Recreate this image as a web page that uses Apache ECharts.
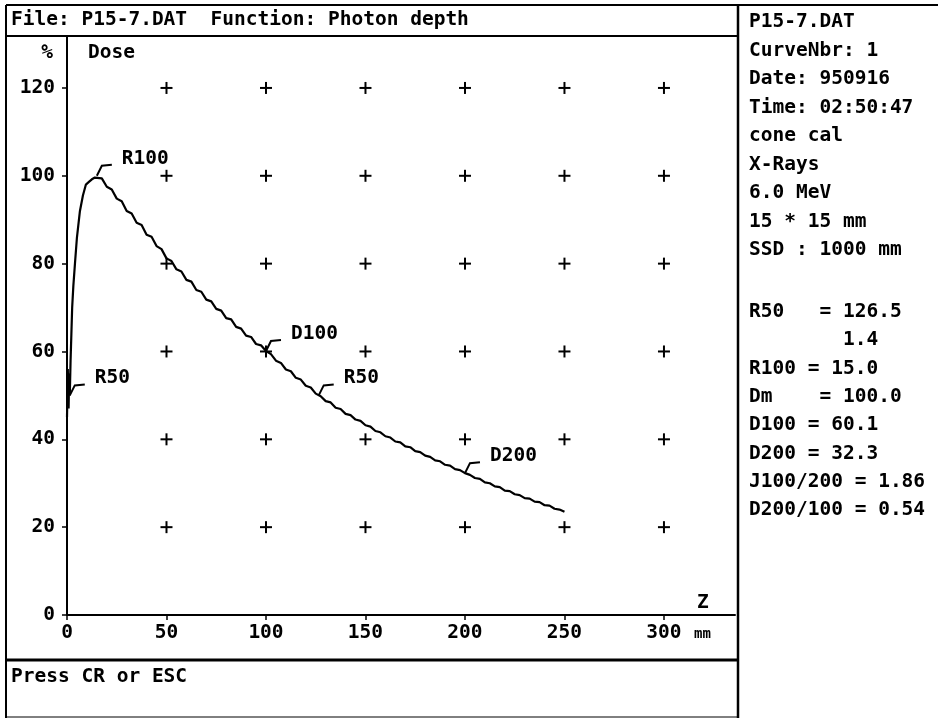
<!DOCTYPE html>
<html><head><meta charset="utf-8">
<script src="https://cdn.jsdelivr.net/npm/echarts@6/dist/echarts.min.js"></script>
<style>html,body{margin:0;padding:0;background:#fff}#c{width:938px;height:718px}</style>
</head><body><div id="c"></div>
<script>
const xTicks = [0, 50, 100, 150, 200, 250, 300];
const yTicks = [0, 20, 40, 60, 80, 100, 120];
const crossX = [50, 100, 150, 200, 250, 300];
const crossY = [20, 40, 60, 80, 100, 120];

const depth = [0, 0.4, 0.8, 1.1, 1.4, 1.8, 2.2, 2.6, 3.2, 4, 5, 6.5, 8, 9.5, 11, 12.5, 14, 15,
  17.5, 20, 22.5, 25, 27.5, 30, 32.5, 35, 37.5, 40, 42.5, 45, 47.5, 50,
  52.5, 55, 57.5, 60, 62.5, 65, 67.5, 70, 72.5, 75, 77.5, 80, 82.5, 85, 87.5, 90, 92.5, 95, 97.5, 100,
  102.5, 105, 107.5, 110, 112.5, 115, 117.5, 120, 122.5, 125, 127.5, 130, 132.5, 135, 137.5, 140, 142.5, 145, 147.5, 150,
  152.5, 155, 157.5, 160, 162.5, 165, 167.5, 170, 172.5, 175, 177.5, 180, 182.5, 185, 187.5, 190, 192.5, 195, 197.5, 200,
  202.5, 205, 207.5, 210, 212.5, 215, 217.5, 220, 222.5, 225, 227.5, 230, 232.5, 235, 237.5, 240, 242.5, 245, 247.5, 250];
const dose = [45, 56, 47, 55, 50, 58, 64, 70, 75, 80, 86, 92, 95.5, 98, 98.6, 99.2, 99.6, 100,
  99.4, 97.5, 96.9, 94.8, 94.2, 92.0, 91.4, 89.3, 88.8, 86.6, 86.1, 84.0, 83.3, 81.2,
  80.6, 78.7, 78.2, 76.3, 75.9, 74.0, 73.6, 71.8, 71.4, 69.7, 69.3, 67.6, 67.3, 65.6, 65.2, 63.6, 63.3, 61.7, 61.4, 60.1,
  59.4, 57.9, 57.4, 55.9, 55.5, 54.0, 53.6, 52.2, 51.8, 50.4, 49.8, 48.7, 48.4, 47.2, 46.9, 45.8, 45.5, 44.5, 44.2, 43.2,
  42.9, 41.9, 41.6, 40.7, 40.4, 39.5, 39.3, 38.4, 38.2, 37.3, 37.1, 36.3, 36.0, 35.2, 35.0, 34.2, 34.0, 33.2, 33.0, 32.3,
  31.9, 31.2, 31.0, 30.2, 30.0, 29.3, 29.1, 28.3, 28.2, 27.5, 27.3, 26.6, 26.5, 25.8, 25.7, 25.0, 24.9, 24.2, 24.0, 23.5];

const annNames = ['R50', 'R100', 'D100', 'R50', 'D200'];
const annDepth = [1.4, 15, 100, 126.5, 200];
const annDose = [50, 100, 60.1, 50, 32.3];

const headerText = 'File: P15-7.DAT  Function: Photon depth';
const infoTop = ['P15-7.DAT', 'CurveNbr: 1', 'Date: 950916', 'Time: 02:50:47', 'cone cal', 'X-Rays', '6.0 MeV', '15 * 15 mm', 'SSD : 1000 mm'];
const infoBottom = ['R50   = 126.5', '        1.4', 'R100 = 15.0', 'Dm    = 100.0', 'D100 = 60.1', 'D200 = 32.3', 'J100/200 = 1.86', 'D200/100 = 0.54'];

const FF = '"DejaVu Sans Mono", "Liberation Mono", monospace';
const FONT = 'bold 19.5px ' + FF;

const curve = depth.map((d, i) => [d, dose[i]]);
const crosses = [];
crossY.forEach(y => crossX.forEach(x => crosses.push([x, y])));
const anns = annNames.map((n, i) => [annDepth[i], annDose[i], n]);

function txt(t, x, y, align, font) {
  return { type: 'text', silent: true, style: { text: t, x: x, y: y, fill: '#000', font: font || FONT, textAlign: align || 'left', textVerticalAlign: 'middle', align: align || 'left', verticalAlign: 'middle' } };
}
function ln(x1, y1, x2, y2, w) {
  return { type: 'line', silent: true, shape: { x1, y1, x2, y2 }, style: { stroke: '#000', lineWidth: w || 2 } };
}

const graphics = [
  ln(6, 5, 938, 5, 2),
  ln(6, 5, 6, 718, 2),
  ln(6, 36, 738, 36, 2),
  ln(738, 5, 738, 718, 2.5),
  ln(6, 660, 738, 660, 3),
  ln(6, 717, 738, 717, 1),
  txt(headerText, 11, 20),
  txt('%', 53, 53, 'right'),
  txt('Dose', 88, 53),
  txt('Z', 697, 603),
  txt('mm', 694, 634, 'left', 'bold 14px ' + FF),
  txt('Press CR or ESC', 11, 677)
];
infoTop.forEach((t, i) => graphics.push(txt(t, 749, 22 + i * 28.5)));
infoBottom.forEach((t, i) => graphics.push(txt(t, 749, 312 + i * 28.3)));

const chart = echarts.init(document.getElementById('c'), null, { renderer: 'canvas' });
chart.setOption({
  animation: false,
  backgroundColor: '#fff',
  grid: { left: 67, top: 37, width: 668, height: 578, containLabel: false },
  xAxis: {
    type: 'value', min: 0, max: 335.7,
    axisLine: { show: true, lineStyle: { color: '#000', width: 2 } },
    axisTick: { show: true, length: 5, customValues: xTicks, lineStyle: { color: '#000', width: 1.5 } },
    axisLabel: { customValues: xTicks, color: '#000', fontFamily: FF, fontSize: 19.5, fontWeight: 'bold', margin: 8 },
    splitLine: { show: false }
  },
  yAxis: {
    type: 'value', min: 0, max: 131.6,
    axisLine: { show: true, lineStyle: { color: '#000', width: 2 } },
    axisTick: { show: true, length: 5, customValues: yTicks, lineStyle: { color: '#000', width: 1.5 } },
    axisLabel: { customValues: yTicks, color: '#000', fontFamily: FF, fontSize: 19.5, fontWeight: 'bold', margin: 12 },
    splitLine: { show: false }
  },
  series: [
    {
      type: 'custom', data: crosses, silent: true,
      renderItem: function (params, api) {
        const p = api.coord([api.value(0), api.value(1)]);
        return { type: 'group', children: [
          { type: 'line', shape: { x1: p[0] - 6, y1: p[1], x2: p[0] + 6, y2: p[1] }, style: { stroke: '#000', lineWidth: 2 } },
          { type: 'line', shape: { x1: p[0], y1: p[1] - 6, x2: p[0], y2: p[1] + 6 }, style: { stroke: '#000', lineWidth: 2 } }
        ] };
      }
    },
    {
      type: 'line', data: curve, showSymbol: false, silent: true,
      lineStyle: { color: '#000', width: 2.2 }
    },
    {
      type: 'custom', data: anns, silent: true,
      renderItem: function (params, api) {
        const p = api.coord([api.value(0), api.value(1)]);
        const name = anns[params.dataIndex][2];
        return { type: 'group', children: [
          { type: 'polyline', shape: { points: [[p[0], p[1]], [p[0] + 5, p[1] - 10], [p[0] + 15, p[1] - 11]] }, style: { stroke: '#000', lineWidth: 2, fill: null } },
          { type: 'text', style: { text: name, x: p[0] + 25, y: p[1] - 17, fill: '#000', font: FONT, textVerticalAlign: 'middle', verticalAlign: 'middle' } }
        ] };
      }
    }
  ],
  graphic: graphics
});
</script>
</body></html>
